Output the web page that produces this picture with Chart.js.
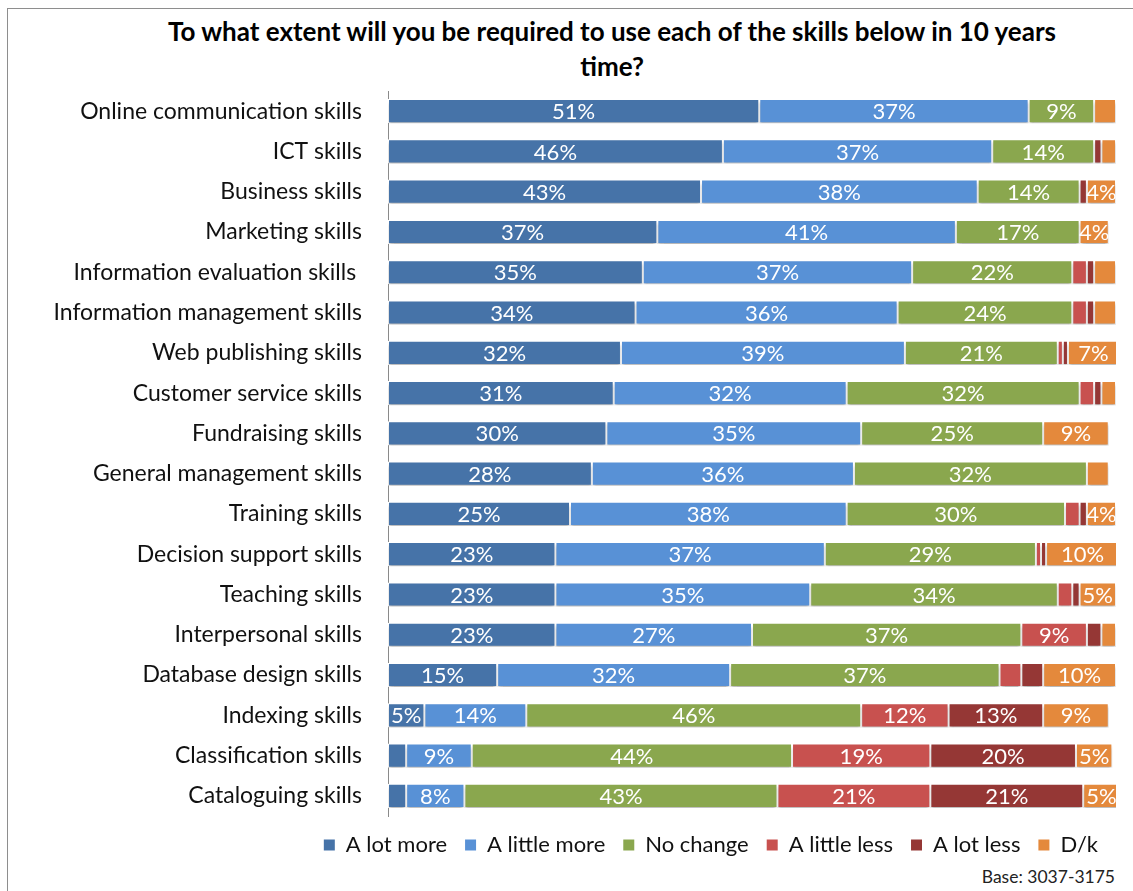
<!DOCTYPE html>
<html>
<head>
<meta charset="utf-8">
<script src="https://cdn.jsdelivr.net/npm/chart.js@4.4.0/dist/chart.umd.min.js"></script>
<style>
  body { margin: 0; background: #fff; width: 1133px; height: 891px; overflow: hidden; position: relative; font-family: Lato, sans-serif; }
  #frame { position: absolute; left: 7px; top: 8px; width: 1140px; height: 900px; border: 1px solid #8e8e8e; }
  #title { position: absolute; left: 108px; width: 1008px; top: 14px; text-align: center; font-weight: bold; font-size: 26px; line-height: 35px; color: #000; }
  #base { position: absolute; right: 18px; top: 866px; font-size: 17.5px; color: #222; }
  #wrap { position: absolute; left: 0; top: 86px; width: 1133px; height: 780px; }
</style>
</head>
<body>
<div id="frame"></div>
<div id="title">To what extent will you be required to use each of the skills below in 10 years<br>time?</div>
<div id="wrap"><canvas id="skillsChart"></canvas></div>
<div id="base">Base: 3037-3175</div>
<script>
const skills = [
  "Online communication skills",
  "ICT skills",
  "Business skills",
  "Marketing skills",
  "Information evaluation skills ",
  "Information management skills",
  "Web publishing skills",
  "Customer service skills",
  "Fundraising skills",
  "General management skills",
  "Training skills",
  "Decision support skills",
  "Teaching skills",
  "Interpersonal skills",
  "Database design skills",
  "Indexing skills",
  "Classification skills",
  "Cataloguing skills"
];

// share of respondents, %
const aLotMore    = [51, 46, 43, 37, 35, 34, 32, 31, 30, 28, 25, 23, 23, 23, 15, 5, 2.5, 2.5];
const aLittleMore = [37, 37, 38, 41, 37, 36, 39, 32, 35, 36, 38, 37, 35, 27, 32, 14, 9, 8];
const noChange    = [9, 14, 14, 17, 22, 24, 21, 32, 25, 32, 30, 29, 34, 37, 37, 46, 44, 43];
const aLittleLess = [0, 0, 0, 0, 2, 2, 0.7, 2, 0, 0, 2, 0.7, 2, 9, 3, 12, 19, 21];
const aLotLess    = [0, 1, 1, 0, 1, 1, 0.7, 1, 0, 0, 1, 0.7, 1, 2, 3, 13, 20, 21];
const dontKnow    = [3, 2, 4, 4, 3, 3, 7, 2, 9, 3, 4, 10, 5, 2, 10, 9, 5, 5];

function series(label, data, color) {
  return {
    label: label,
    data: data,
    backgroundColor: color,
    borderColor: "#fff",
    borderWidth: 1,
    borderSkipped: false,
    categoryPercentage: 0.8,
    barPercentage: 0.75
  };
}

// soft drop shadow under the bars
const barShadow = {
  id: "barShadow",
  beforeDatasetsDraw(chart) {
    const ctx = chart.ctx;
    ctx.save();
    ctx.shadowColor = "rgba(0,0,0,0.28)";
    ctx.shadowBlur = 3;
    ctx.shadowOffsetY = 3;
  },
  afterDatasetsDraw(chart) {
    chart.ctx.restore();
  }
};

// percentage written inside each segment that is wide enough
const barLabels = {
  id: "barLabels",
  afterDatasetsDraw(chart) {
    const ctx = chart.ctx;
    ctx.save();
    ctx.font = "22px Lato";
    ctx.fillStyle = "#fff";
    ctx.textAlign = "center";
    ctx.textBaseline = "middle";
    chart.data.datasets.forEach((ds, i) => {
      const meta = chart.getDatasetMeta(i);
      meta.data.forEach((bar, j) => {
        const v = ds.data[j];
        if (v < 4) return;
        const p = bar.getCenterPoint();
        ctx.fillText(v + "%", p.x, p.y + 1);
      });
    });
    ctx.restore();
  }
};

const ctx = document.getElementById("skillsChart").getContext("2d");
const skillsChart = new Chart(ctx, {
  type: "bar",
  data: {
    labels: skills,
    datasets: [
      series("A lot more", aLotMore, "#4673A8"),
      series("A little more", aLittleMore, "#5891D6"),
      series("No change", noChange, "#8AA74E"),
      series("A little less", aLittleLess, "#C8514F"),
      series("A lot less", aLotLess, "#953735"),
      series("D/k", dontKnow, "#E4893C")
    ]
  },
  options: {
    indexAxis: "y",
    responsive: true,
    maintainAspectRatio: false,
    animation: false,
    layout: { padding: { top: 5, right: 17, left: 0, bottom: 0 } },
    scales: {
      x: { stacked: true, min: 0, max: 100, display: false },
      y: {
        stacked: true,
        grid: { display: false, drawTicks: false },
        border: { display: true, color: "#8a8a8a", width: 1 },
        ticks: { color: "#111", font: { family: "Lato", size: 23 }, padding: 26 },
        afterFit(scale) {
          scale.width = 388;
          scale.paddingTop = 0;
          scale.paddingBottom = 0;
        }
      }
    },
    plugins: {
      tooltip: { enabled: false },
      legend: {
        position: "bottom",
        align: "end",
        labels: {
          color: "#111",
          font: { family: "Lato", size: 22 },
          boxWidth: 11,
          boxHeight: 11,
          padding: 18,
          generateLabels(chart) {
            return Chart.defaults.plugins.legend.labels.generateLabels(chart).map(l =>
              Object.assign(l, { strokeStyle: l.fillStyle, lineWidth: 0 }));
          }
        }
      }
    }
  },
  plugins: [barShadow, barLabels]
});
</script>
</body>
</html>
